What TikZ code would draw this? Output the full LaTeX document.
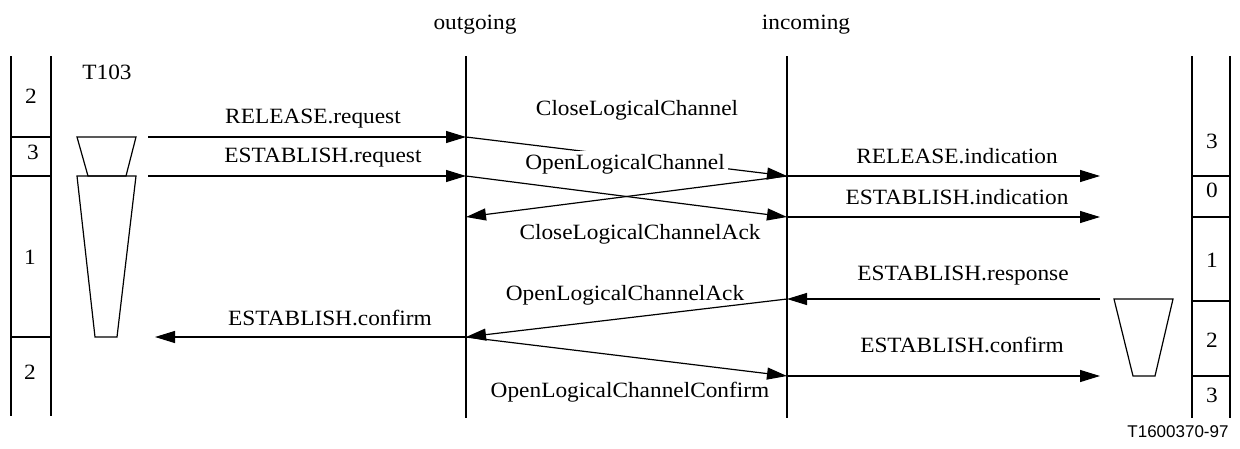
\documentclass[tikz,border=0pt]{standalone}
\usepackage{fontspec}
\setmainfont{Liberation Serif}[FakeStretch=1.07]
\newfontfamily\tagfont{Liberation Sans}
\usetikzlibrary{arrows.meta}
\begin{document}
\begin{tikzpicture}[x=1pt,y=-1pt,
  ln/.style={line width=1.2pt},
  msg/.style={ln,-{Triangle[length=20pt,width=12pt]}},
  lbl/.style={font=\fontsize{21.8}{24}\selectfont,anchor=base,inner sep=0pt},
  wlbl/.style={font=\fontsize{21.8}{24}\selectfont,anchor=base,fill=white,inner sep=3pt}]
\useasboundingbox (0,0) rectangle (1240,448);
% lifelines
\coordinate (otop) at (466,56); \coordinate (obot) at (466,418);
\coordinate (itop) at (787,56); \coordinate (ibot) at (787,418);
\draw[ln] (otop) -- (obot);
\draw[ln] (itop) -- (ibot);
\node[lbl] (outlbl) at (475,29) {outgoing};
\node[lbl] (inlbl) at (806,29) {incoming};
% left state column
\draw[ln] (11,56) -- (11,416) (51,56) -- (51,416);
\draw[ln] (11,137) -- (51,137) (11,176) -- (51,176) (11,337) -- (51,337);
\node[lbl] (l2a) at (31,103) {2};
\node[lbl] (l3) at (33,159) {3};
\node[lbl] (l1) at (30,264) {1};
\node[lbl] (l2b) at (30,379) {2};
% right state column
\draw[ln] (1192,56) -- (1192,418) (1230,56) -- (1230,418);
\draw[ln] (1192,176) -- (1230,176) (1192,217) -- (1230,217) (1192,301) -- (1230,301) (1192,376) -- (1230,376);
\node[lbl] (r3a) at (1212,148) {3};
\node[lbl] (r0) at (1212,197) {0};
\node[lbl] (r1) at (1212,267) {1};
\node[lbl] (r2) at (1212,347) {2};
\node[lbl] (r3b) at (1212,402) {3};
% timers
\node[lbl] (t103) at (107,79) {T103};
\draw[ln] (77,137) -- (136,137) -- (126,176) -- (88,176) -- cycle;
\draw[ln] (77,176) -- (136,176) -- (117,337) -- (95,337) -- cycle;
\draw[ln] (1114,299) -- (1173,299) -- (1155,376) -- (1133,376) -- cycle;
% coordinates on lifelines
\coordinate (a1) at (148,137); \coordinate (a2) at (148,176);
\coordinate (o137) at (466,137); \coordinate (o176) at (466,176);
\coordinate (o217) at (466,217); \coordinate (o337) at (466,337);
\coordinate (i176) at (787,176); \coordinate (i217) at (787,217);
\coordinate (i299) at (787,299); \coordinate (i376) at (787,376);
\coordinate (r176) at (1100,176); \coordinate (r217) at (1100,217);
\coordinate (r299) at (1100,299); \coordinate (r376) at (1100,376);
\coordinate (lc) at (155,337);
% messages
\draw[msg] (a1) -- (o137);
\draw[msg] (a2) -- (o176);
\draw[msg] (o137) -- (i176);
\draw[msg] (o176) -- (i217);
\draw[msg] (i176) -- (o217);
\draw[msg] (i176) -- (r176);
\draw[msg] (i217) -- (r217);
\draw[msg] (r299) -- (i299);
\draw[msg] (i299) -- (o337);
\draw[msg] (o337) -- (lc);
\draw[msg] (o337) -- (i376);
\draw[msg] (i376) -- (r376);
% labels
\node[lbl] (m1) at (313,123) {RELEASE.request};
\node[lbl] (m2) at (323,162) {ESTABLISH.request};
\node[lbl] (m3) at (637,115) {CloseLogicalChannel};
\node[wlbl] (m4) at (625,169) {OpenLogicalChannel};
\node[lbl] (m5) at (640,239) {CloseLogicalChannelAck};
\node[lbl] (m6) at (957,163) {RELEASE.indication};
\node[lbl] (m7) at (957,204) {ESTABLISH.indication};
\node[lbl] (m8) at (963,280) {ESTABLISH.response};
\node[lbl] (m9) at (625,300) {OpenLogicalChannelAck};
\node[lbl] (m10) at (330,325) {ESTABLISH.confirm};
\node[lbl] (m11) at (630,397) {OpenLogicalChannelConfirm};
\node[lbl] (m12) at (962,352) {ESTABLISH.confirm};
\node[font=\tagfont\fontsize{17}{20}\selectfont,anchor=base,inner sep=0pt] (tag) at (1178,437) {T1600370-97};
\end{tikzpicture}
\end{document}
